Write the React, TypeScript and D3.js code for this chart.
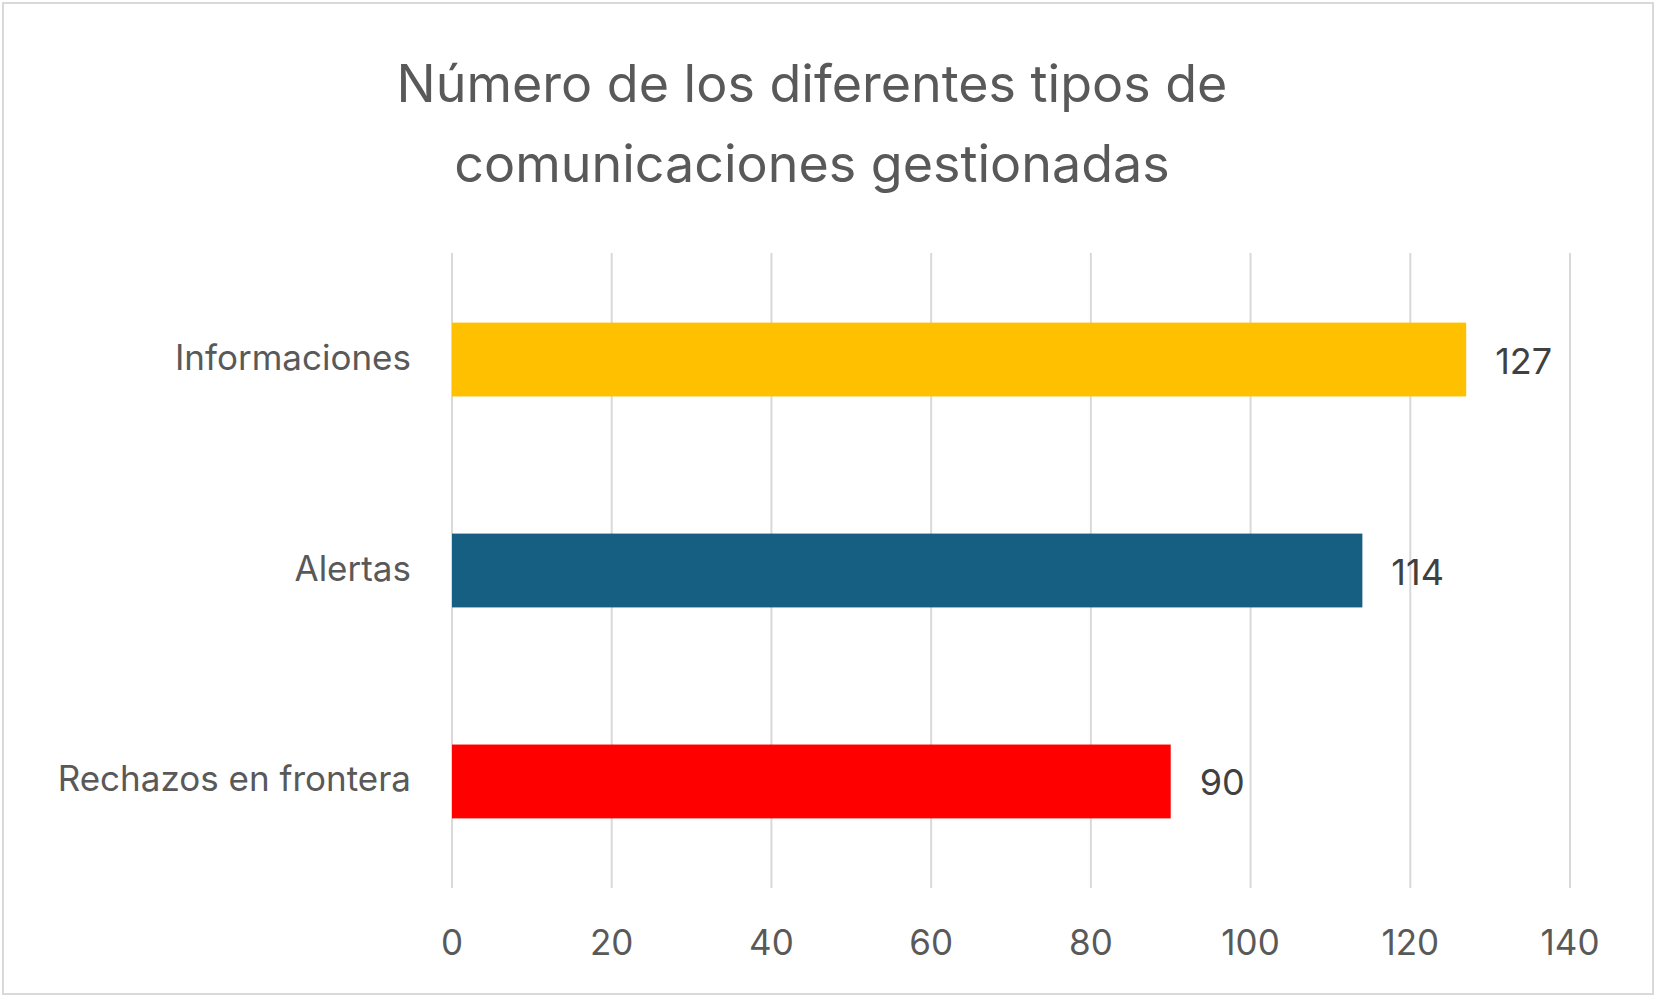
import React, { useEffect, useRef } from 'react';
import * as d3 from 'd3';

const categories = ['Informaciones', 'Alertas', 'Rechazos en frontera'];
const values = [127, 114, 90];
const colors = ['#FFC000', '#175F82', '#FF0000'];
const ticks = [0, 20, 40, 60, 80, 100, 120, 140];
const titleLines = ['Número de los diferentes tipos de', 'comunicaciones gestionadas'];

export default function App() {
  const ref = useRef<SVGSVGElement>(null);

  useEffect(() => {
    if (!ref.current) return;
    const svg = d3.select(ref.current);
    svg.selectAll('*').remove();
    const font = 'Inter, "Open Sans", sans-serif';

    svg.append('rect').attr('x', 3).attr('y', 3).attr('width', 1650).attr('height', 991)
      .attr('fill', '#fff').attr('stroke', '#d9d9d9').attr('stroke-width', 2);

    svg.selectAll('text.title').data(titleLines).join('text')
      .attr('x', 812).attr('y', (_, i) => 102 + i * 80)
      .attr('text-anchor', 'middle').attr('font-family', font).attr('font-size', 52)
      .attr('fill', '#595959').text(d => d);

    const x = d3.scaleLinear().domain([0, 140]).range([452, 1570]);
    const y = d3.scaleBand().domain(categories).range([253, 888]).paddingInner(0.65).paddingOuter(0.33);

    svg.selectAll('line.grid').data(ticks).join('line')
      .attr('x1', d => x(d)).attr('x2', d => x(d)).attr('y1', 253).attr('y2', 888)
      .attr('stroke', '#d9d9d9').attr('stroke-width', 2);

    svg.selectAll('rect.bar').data(values).join('rect')
      .attr('x', x(0)).attr('y', (_, i) => y(categories[i])!)
      .attr('width', d => x(d) - x(0)).attr('height', y.bandwidth())
      .attr('fill', (_, i) => colors[i]);

    svg.selectAll('text.val').data(values).join('text')
      .attr('x', d => x(d) + 29).attr('y', (_, i) => y(categories[i])! + y.bandwidth() / 2 + 14)
      .attr('font-family', font).attr('font-size', 36).attr('fill', '#404040').text(d => d);

    svg.selectAll('text.cat').data(categories).join('text')
      .attr('x', 411).attr('y', d => y(d)! + y.bandwidth() / 2 + 10)
      .attr('text-anchor', 'end').attr('font-family', font).attr('font-size', 35)
      .attr('fill', '#595959').text(d => d);

    svg.selectAll('text.tick').data(ticks).join('text')
      .attr('x', d => x(d)).attr('y', 955).attr('text-anchor', 'middle')
      .attr('font-family', font).attr('font-size', 35).attr('fill', '#595959').text(d => d);
  }, []);

  return (
    <svg ref={ref} width={1663} height={1003}
      style={{ position: 'absolute', left: 0, top: 0, background: '#fff' }} />
  );
}
